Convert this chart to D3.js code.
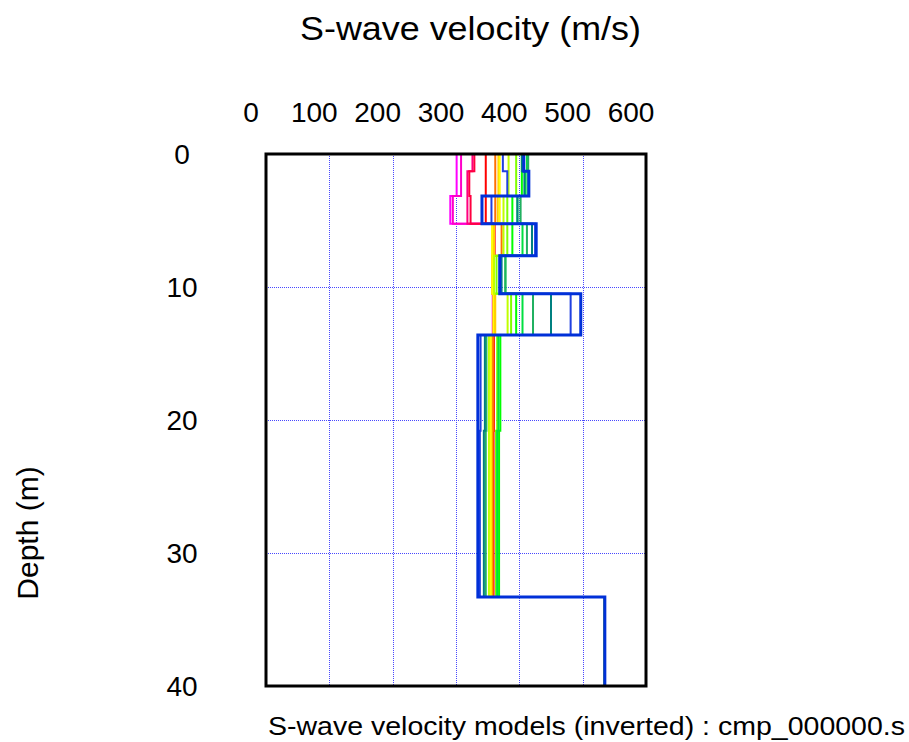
<!DOCTYPE html>
<html>
<head>
<meta charset="utf-8">
<script src="https://cdn.jsdelivr.net/npm/d3@7"></script>
<style>
  html, body { margin: 0; padding: 0; background: #fff; }
  svg { display: block; font-family: "Liberation Sans", Arial, sans-serif; }
</style>
</head>
<body>
<svg id="chart" width="909" height="742"></svg>
<script>
// Layer bottoms (m); the last layer is the half-space down to the plot bottom
const layerBottoms = [1.3, 3.15, 5.25, 7.65, 10.5, 13.6, 20.8, 33.3, 40];

// S-wave velocity per layer (m/s) for each inverted model, first to last
const model01 = [301, 301, 291, 358, 357, 358, 358, 357, 535];
const model02 = [308, 308, 295, 359, 358, 359, 359, 358, 535];
const model03 = [326, 318, 318, 360, 358, 359, 359, 359, 535];
const model04 = [329, 321, 323, 360, 359, 360, 360, 359, 535];
const model05 = [347, 347, 347, 361, 359, 360, 359, 358.5, 535];
const model06 = [362, 362, 362, 372, 360, 361, 359, 358, 535];
const model07 = [367, 367, 366, 360, 358, 362, 356, 356, 535];
const model08 = [369, 369, 369, 357, 357, 359, 354.6, 354.6, 535];
const model09 = [383, 383, 375, 375, 360, 381.5, 352, 352, 535];
const model10 = [395, 395, 381, 381, 364, 387, 365, 363, 535];
const model11 = [404, 404, 389, 389, 370, 395, 370, 368, 535];
const model12 = [412, 410, 397, 405, 378, 405, 367, 365, 535];
const model13 = [414, 414, 402, 412, 378, 421.6, 348, 347, 535];
const model14 = [404, 408, 397, 420, 372, 450, 345.6, 344, 535];
const model15 = [374, 381, 356, 425, 370, 481, 338.8, 337.7, 535];
const model16 = [407, 415, 341, 426.6, 369, 497, 334.5, 334.5, 535];

const models = [model01, model02, model03, model04, model05, model06, model07, model08,
                model09, model10, model11, model12, model13, model14, model15, model16];

const modelColors = ["#ff00ff", "#ff00c8", "#ff0080", "#ff0040", "#ff0000", "#ff7000",
                     "#ffd000", "#ffff00", "#c0ff00", "#80ff00", "#00ff00", "#00e040",
                     "#20b060", "#008080", "#2040e0", "#0030d8"];

const velocityTicks = [0, 100, 200, 300, 400, 500, 600];
const depthTicks = [0, 10, 20, 30, 40];

const plot = { left: 266, right: 646, top: 154, bottom: 686 };

const svg = d3.select("#chart");

const x = d3.scaleLinear().domain([0, 600]).range([plot.left, plot.right]);
const y = d3.scaleLinear().domain([0, 40]).range([plot.top, plot.bottom]);

svg.append("defs").append("clipPath").attr("id", "plotClip")
  .append("rect")
  .attr("x", plot.left).attr("y", plot.top)
  .attr("width", plot.right - plot.left).attr("height", plot.bottom - plot.top);

// dotted grid
const grid = svg.append("g").attr("stroke", "#4848ff").attr("stroke-width", 1)
  .attr("stroke-dasharray", "1,1");
grid.selectAll("line.v").data(velocityTicks.slice(1, -1)).join("line")
  .attr("x1", d => Math.round(x(d)) + 0.5).attr("x2", d => Math.round(x(d)) + 0.5)
  .attr("y1", plot.top).attr("y2", plot.bottom);
grid.selectAll("line.h").data(depthTicks.slice(1, -1)).join("line")
  .attr("y1", d => Math.round(y(d)) + 0.5).attr("y2", d => Math.round(y(d)) + 0.5)
  .attr("x1", plot.left).attr("x2", plot.right);

// step profile for one model: vertical segment through each layer, horizontal at each interface
function profilePoints(vel) {
  const pts = [];
  let top = 0;
  vel.forEach((v, i) => {
    pts.push([v, top]);
    pts.push([v, layerBottoms[i]]);
    top = layerBottoms[i];
  });
  return pts;
}

const line = d3.line().x(d => x(d[0])).y(d => y(d[1]));

const curves = svg.append("g").attr("clip-path", "url(#plotClip)")
  .attr("fill", "none").attr("stroke-linejoin", "miter");
curves.selectAll("path").data(models).join("path")
  .attr("d", d => line(profilePoints(d)))
  .attr("stroke", (d, i) => modelColors[i])
  .attr("stroke-width", (d, i) => i === models.length - 1 ? 3 : 2);

// frame
svg.append("rect")
  .attr("x", plot.left).attr("y", plot.top)
  .attr("width", plot.right - plot.left).attr("height", plot.bottom - plot.top)
  .attr("fill", "none").attr("stroke", "#000").attr("stroke-width", 3);

// top velocity axis labels
svg.append("g").selectAll("text").data(velocityTicks).join("text")
  .attr("x", d => x(d) - 15).attr("y", 122)
  .attr("text-anchor", "middle").attr("font-size", 28).attr("fill", "#000")
  .text(d => d);

// depth labels
svg.append("g").selectAll("text").data(depthTicks).join("text")
  .attr("x", 182).attr("y", d => y(d) + 10)
  .attr("text-anchor", "middle").attr("font-size", 28).attr("fill", "#000")
  .text(d => d);

// titles
svg.append("text").attr("x", 300).attr("y", 40)
  .attr("font-size", 34).attr("textLength", 341).attr("lengthAdjust", "spacingAndGlyphs")
  .text("S-wave velocity (m/s)");

svg.append("text")
  .attr("transform", "translate(38,533) rotate(-90)")
  .attr("text-anchor", "middle").attr("font-size", 30)
  .text("Depth (m)");

svg.append("text").attr("x", 268).attr("y", 735)
  .attr("font-size", 26).attr("textLength", 637).attr("lengthAdjust", "spacingAndGlyphs")
  .text("S-wave velocity models (inverted) : cmp_000000.s");
</script>
</body>
</html>
